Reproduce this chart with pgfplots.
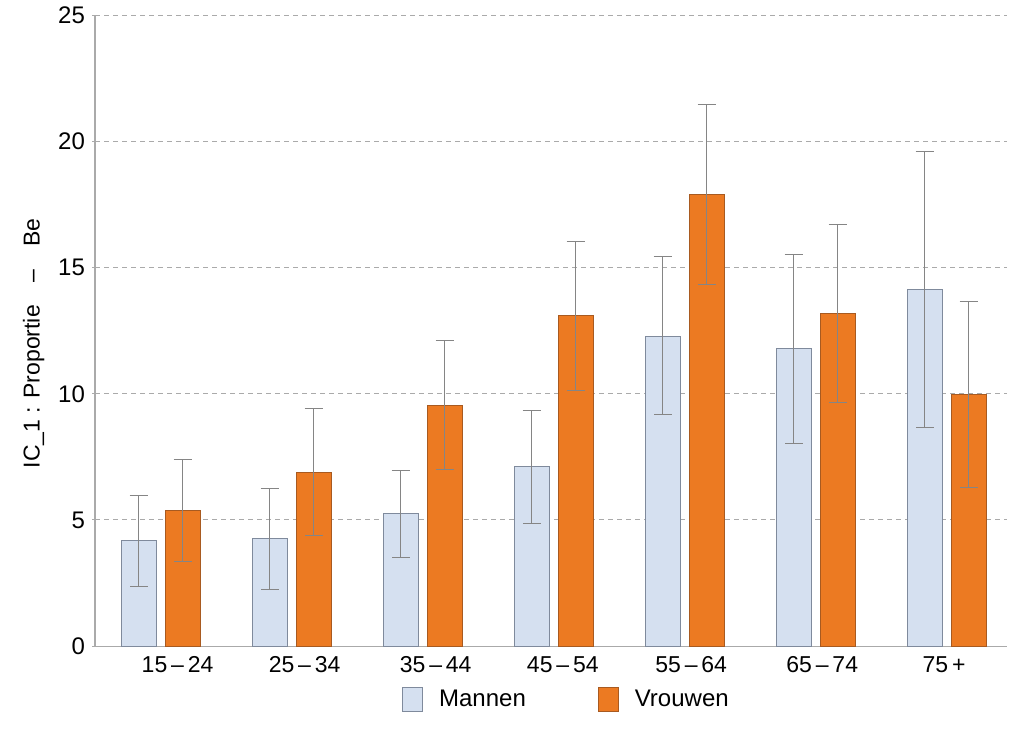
\documentclass[border=0pt]{standalone}
\usepackage{fontspec}
\setmainfont{Liberation Sans}
\usepackage{pgfplots}
\usepackage{pgfplotstable}
\pgfplotsset{compat=1.18}

\definecolor{manfill}{HTML}{D5E0F0}
\definecolor{mandraw}{HTML}{7F8A9C}
\definecolor{vrfill}{HTML}{EC7A22}
\definecolor{vrdraw}{HTML}{A85A20}
\definecolor{errc}{HTML}{858585}
\definecolor{gridc}{HTML}{AAAAAA}

% x  value  +err  -err
\pgfplotstableread{
x m    mp   mm
0 4.20 1.78 1.82
1 4.28 1.98 2.02
2 5.27 1.70 1.74
3 7.13 2.22 2.26
4 12.28 3.17 3.09
5 11.81 3.72 3.77
6 14.14 5.47 5.46
}\mannen
\pgfplotstableread{
x v    vp   vm
0 5.39 2.02 2.02
1 6.89 2.54 2.49
2 9.55 2.55 2.54
3 13.11 2.94 2.97
4 17.90 3.57 3.56
5 13.19 3.53 3.52
6 9.98 3.69 3.68
}\vrouwen

\begin{document}
\begin{tikzpicture}
\begin{axis}[
  scale only axis,
  width=456pt, height=315.5pt,
  ybar, bar width=17.5pt,
  xmin=-0.5, xmax=6.46,
  ymin=0, ymax=25,
  ytick={0,5,...,25},
  xtick={0.13,1.10,2.10,3.07,4.05,5.05,5.98},
  xticklabels={15\,–\,24,25\,–\,34,35\,–\,44,45\,–\,54,55\,–\,64,65\,–\,74,75\,+},
  xtick style={draw=none},
  ytick style={draw=gridc, line width=0.5pt},
  tick align=outside,
  major tick length=3pt,
  axis x line=bottom, axis y line=left,
  axis line style={draw=gridc, line width=0.6pt, -},
  ymajorgrids,
  grid style={draw=gridc, dash pattern=on 2.5pt off 2pt, line width=0.5pt},
  xticklabel style={font=\fontsize{11.5}{13}\selectfont},
  yticklabel style={font=\fontsize{12}{14}\selectfont},
  /pgf/number format/assume math mode=true,
  ylabel={IC\_1 : Proportie\quad–\quad Be},
  ylabel style={font=\fontsize{11.5}{13}\selectfont},
  every axis y label/.append style={at={(ticklabel cs:0.48)}},
  legend style={draw=none, at={(0.518,-0.085)}, anchor=center,
    legend columns=2, font=\fontsize{12}{14}\selectfont,
    /tikz/every odd column/.append style={column sep=6pt},
    /tikz/every even column/.append style={column sep=34pt}},
  legend image code/.code={\draw[#1] (0pt,-6pt) rectangle (10pt,6pt);},
  error bars/y explicit,
  error bars/error bar style={draw=errc, line width=0.5pt},
  error bars/error mark options={draw=errc, line width=0.5pt, rotate=90, mark size=4.5pt},
]
\addplot[fill=manfill, draw=mandraw, line width=0.5pt, bar shift=-11pt]
  table[x=x, y=m] {\mannen};
\addlegendentry{Mannen}
\addplot[fill=vrfill, draw=vrdraw, line width=0.5pt, bar shift=11pt]
  table[x=x, y=v] {\vrouwen};
\addlegendentry{Vrouwen}
% error bars on top of the bars
\addplot[draw=none, fill=none, bar shift=-11pt, forget plot,
  error bars/y dir=both]
  table[x=x, y=m, y error plus=mp, y error minus=mm] {\mannen};
\addplot[draw=none, fill=none, bar shift=11pt, forget plot,
  error bars/y dir=both]
  table[x=x, y=v, y error plus=vp, y error minus=vm] {\vrouwen};
\end{axis}
\path ([shift={(-47.5pt,-42.5pt)}]current axis.south west)
  rectangle ([shift={(8.5pt,7.5pt)}]current axis.north east);
\end{tikzpicture}
\end{document}
